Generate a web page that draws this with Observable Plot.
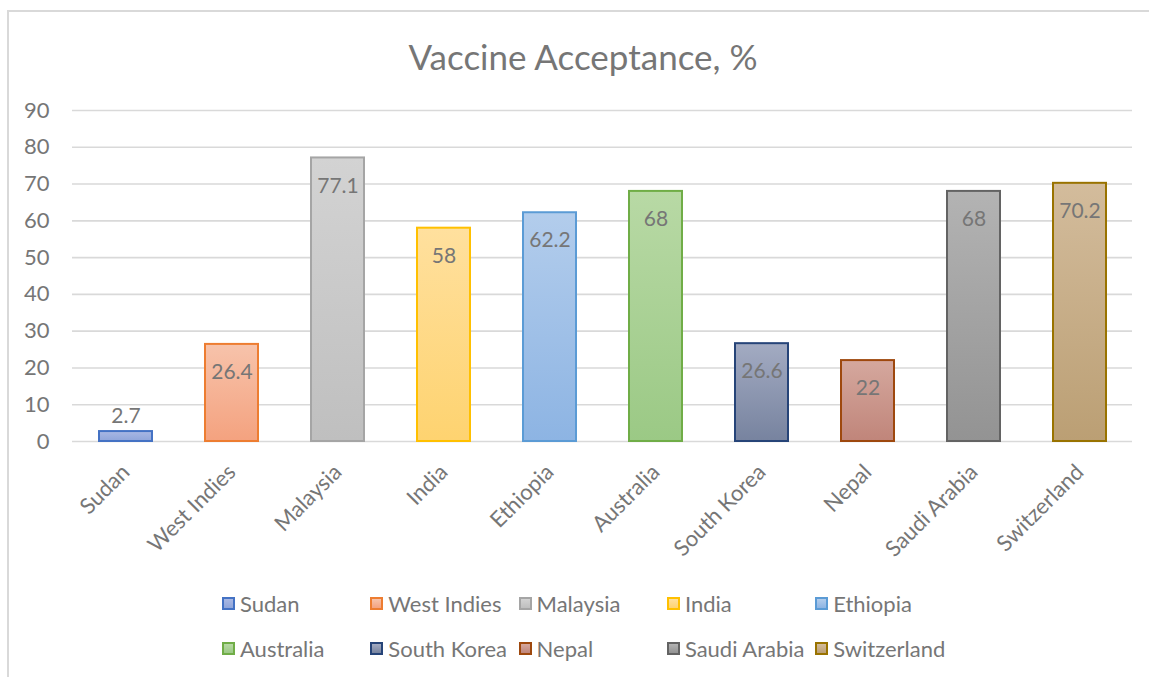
<!DOCTYPE html>
<html>
<head>
<meta charset="utf-8">
<script src="https://cdn.jsdelivr.net/npm/d3@7"></script>
<script src="https://cdn.jsdelivr.net/npm/@observablehq/plot@0.6"></script>
<style>
  body { margin: 0; background: #fff; font-family: Lato, "Noto Sans", sans-serif; }
  #chart { position: relative; width: 1149px; height: 677px; overflow: hidden; background: #fff; }
  #frame { position: absolute; left: 7px; top: 10px; width: 1200px; height: 700px;
           border-left: 2px solid #d9d9d9; border-top: 2px solid #d9d9d9; box-sizing: border-box; }
  #title { position: absolute; left: 0; top: 34px; width: 1166px; text-align: center;
           font-size: 35px; color: #767676; line-height: 44px; white-space: nowrap; }
  #plot { position: absolute; left: 0; top: 0; }
  .item { position: absolute; display: flex; align-items: center; height: 26px;
          font-size: 22px; color: #767676; white-space: nowrap; }
  .swatch { width: 13px; height: 13px; box-sizing: border-box; border: 2px solid; margin-right: 5px; }
</style>
</head>
<body>
<div id="chart">
  <div id="frame"></div>
  <div id="title">Vaccine Acceptance, %</div>
  <div id="plot"></div>
</div>
<script>
// Countries and their vaccine acceptance rates (%)
const countries = ["Sudan", "West Indies", "Malaysia", "India", "Ethiopia",
                   "Australia", "South Korea", "Nepal", "Saudi Arabia", "Switzerland"];
const acceptance = [2.7, 26.4, 77.1, 58, 62.2, 68, 26.6, 22, 68, 70.2];
const yTicks = [0, 10, 20, 30, 40, 50, 60, 70, 80, 90];

// Outline colour and gradient (top, bottom) for each country's bar
const outlineColors = ["#4472C4", "#ED7D31", "#A5A5A5", "#FFC000", "#5B9BD5",
                       "#70AD47", "#264478", "#9E480E", "#636363", "#997300"];
const gradientTop = ["#a9b8e4", "#f7c3ab", "#d3d3d3", "#ffe09e", "#b3cdec",
                     "#b8d9a5", "#a3abc2", "#d5a89e", "#b3b3b3", "#d3bc9c"];
const gradientBottom = ["#8fa5da", "#f4a27f", "#bfbfbf", "#fed370", "#8db4e3",
                        "#9bc985", "#77839f", "#c0857a", "#939393", "#bb9f74"];

const data = countries.map((country, i) => ({
  country,
  value: acceptance[i],
  fill: `url(#grad-${i})`,
  stroke: outlineColors[i]
}));

const labelColor = "#767676";
const gridColor = "#d9d9d9";

const chart = Plot.plot({
  width: 1149,
  height: 677,
  marginLeft: 72,
  marginRight: 17,
  marginTop: 110,
  marginBottom: 236,
  style: { fontFamily: "Lato, 'Noto Sans', sans-serif", fontSize: "22px", color: labelColor, background: "transparent", overflow: "visible" },
  x: { domain: countries, paddingInner: 0.5, paddingOuter: 0.25, label: null },
  y: { domain: [0, 90], label: null },
  color: { type: "identity" },
  marks: [
    Plot.ruleY(yTicks, { stroke: gridColor, strokeWidth: 1.6 }),
    Plot.axisY({ ticks: yTicks, tickSize: 0, tickPadding: 23, label: null, fontSize: 22 }),
    Plot.axisX({ tickSize: 0, tickPadding: 27, tickRotate: -45, label: null, fontSize: 22 }),
    Plot.barY(data, { x: "country", y: "value", fill: "fill", stroke: "stroke", strokeWidth: 2 }),
    Plot.text(data.filter(d => d.value >= 10), {
      x: "country", y: "value", text: d => String(d.value), dy: 28, fill: labelColor, fontSize: 21
    }),
    Plot.text(data.filter(d => d.value < 10), {
      x: "country", y: "value", text: d => String(d.value), dy: -15, fill: labelColor, fontSize: 21
    })
  ]
});

// Vertical gradients for the bar fills
const defs = d3.select(chart).insert("defs", ":first-child");
countries.forEach((_, i) => {
  const g = defs.append("linearGradient")
    .attr("id", `grad-${i}`).attr("x1", 0).attr("y1", 0).attr("x2", 0).attr("y2", 1);
  g.append("stop").attr("offset", "0%").attr("stop-color", gradientTop[i]);
  g.append("stop").attr("offset", "100%").attr("stop-color", gradientBottom[i]);
});

document.getElementById("plot").appendChild(chart);

// Legend: two rows of five entries
const chartDiv = document.getElementById("chart");
countries.forEach((country, i) => {
  const item = document.createElement("div");
  item.className = "item";
  item.style.left = (222 + (i % 5) * 148.3) + "px";
  item.style.top = (i < 5 ? 590 : 635) + "px";
  const sw = document.createElement("div");
  sw.className = "swatch";
  sw.style.borderColor = outlineColors[i];
  sw.style.background = `linear-gradient(${gradientTop[i]}, ${gradientBottom[i]})`;
  const label = document.createElement("span");
  label.textContent = country;
  item.appendChild(sw);
  item.appendChild(label);
  chartDiv.appendChild(item);
});
</script>
</body>
</html>
